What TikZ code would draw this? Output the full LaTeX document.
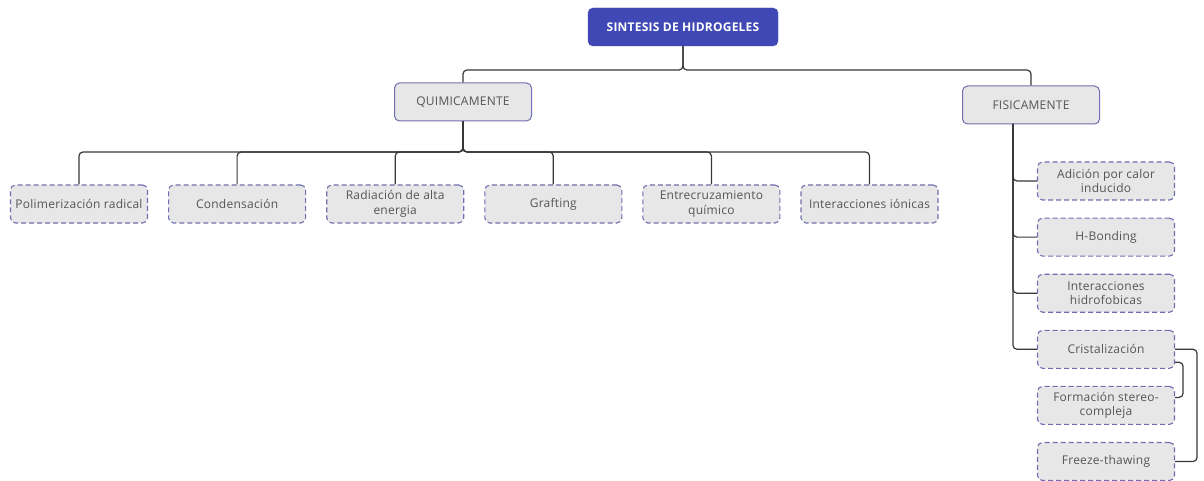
\documentclass[tikz,border=0pt]{standalone}
\usepackage{fontspec}
\setmainfont[LetterSpace=2]{Open Sans}
\usetikzlibrary{positioning}
\usetikzlibrary{calc}
\definecolor{titleblue}{RGB}{63,72,180}
\definecolor{boxline}{RGB}{110,110,176}
\definecolor{boxfill}{RGB}{231,231,231}
\definecolor{boxtext}{RGB}{85,85,85}
\definecolor{linkgray}{RGB}{55,55,55}
\tikzset {
  % connector between levels
  link/.style = {
    draw = linkgray,
    line width = 1.2pt,
    rounded corners = 4pt
  }
}
\tikzset {
  map node/.style = {
    rounded corners = 5pt,
    align = center,
    text = boxtext,
    inner sep = 1pt
  },
  % root of the map
  root/.style = {
    map node,
    fill = titleblue,
    draw = titleblue,
    text = white,
    font = \fontsize{12}{14}\selectfont\bfseries,
    minimum width = 190pt,
    minimum height = 38pt
  },
  % first level
  branch/.style = {
    map node,
    fill = boxfill,
    draw = boxline,
    line width = 1pt,
    font = \fontsize{12}{14}\selectfont,
    minimum width = 137pt,
    minimum height = 38pt
  },
  % second level
  leaf/.style = {
    map node,
    fill = boxfill,
    draw = boxline,
    line width = 1.1pt,
    dash pattern = on 5pt off 3pt,
    font = \fontsize{12}{14.5}\selectfont,
    minimum width = 137pt,
    minimum height = 38pt
  },
  node distance = 20pt
}

\begin{document}
\begin{tikzpicture}[x=1pt, y=-1pt]
    \useasboundingbox (0,0) rectangle (1204,481);

    \node[root] (sintesis) at (683,27) {SINTESIS DE HIDROGELES};

    \node[branch] (quim) at (463,102) {QUIMICAMENTE};
    \node[branch] (fis) at (1031,105) {FISICAMENTE};

    \coordinate (top-bar) at (683,70);
    \coordinate (quim-bar) at (463,152);
    \coordinate (fis-trunk) at (1013,124);

    % row under QUIMICAMENTE
    \node[leaf] (polim) at (79,204) {Polimerización radical};
    \node[leaf] (conden) [right=of polim] {Condensación};
    \node[leaf] (radiac) [right=of conden] {Radiación de alta\\energia};
    \node[leaf] (graft) [right=of radiac] {Grafting};
    \node[leaf] (entrec) [right=of graft] {Entrecruzamiento\\químico};
    \node[leaf] (ionic) [right=of entrec] {Interacciones iónicas};

    % column under FISICAMENTE
    \node[leaf] (adic) at (1106,181) {Adición por calor\\inducido};
    \node[leaf] (hbond) [below=17pt of adic] {H-Bonding};
    \node[leaf] (hidrof) [below=17pt of hbond] {Interacciones\\hidrofobicas};
    \node[leaf] (crist) [below=17pt of hidrof] {Cristalización};
    \node[leaf] (stereo) [below=17pt of crist] {Formación stereo-\\compleja};
    \node[leaf] (freeze) [below=17pt of stereo] {Freeze-thawing};

    \draw [link] (sintesis) -- (top-bar) -| (quim);
    \draw [link] (sintesis) -- (top-bar) -| (fis);

    \foreach \child in {polim, conden, radiac, graft, entrec, ionic}
      \draw [link] (quim) -- (quim-bar) -| (\child);

    \foreach \child in {adic, hbond, hidrof, crist}
      \draw [link] (fis-trunk) |- (\child);

    \draw [link]
      (crist.east) -- ++(22,0)
      |- (freeze.east);

    \draw [link]
      ($(crist.east) + (0,13)$) -- ++(8,0)
      |- ($(stereo.east) + (0,-8)$);
\end{tikzpicture}
\end{document}
